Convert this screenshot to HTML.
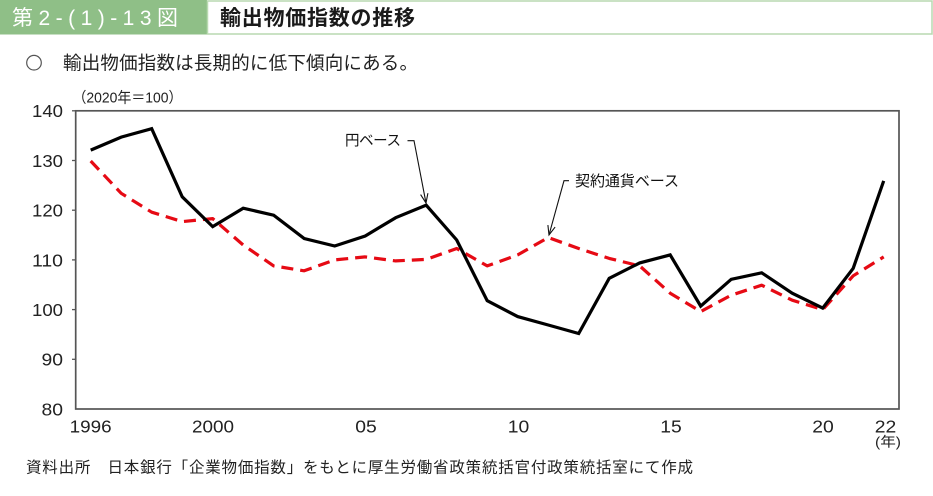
<!DOCTYPE html>
<html><head><meta charset="utf-8"><style>
html,body{margin:0;padding:0;background:#fff;}
svg{display:block;}
.jp{font-family:"Liberation Sans","Noto Sans CJK JP",sans-serif;}
.num{font-family:"Liberation Sans","Noto Sans CJK JP",sans-serif;}
</style></head><body>
<svg width="933" height="496" viewBox="0 0 933 496" xmlns="http://www.w3.org/2000/svg">
<!-- header -->
<rect x="0" y="0" width="207" height="34.5" fill="#8fbf87"/>
<rect x="207.5" y="1" width="724.5" height="33" fill="#fff" stroke="#b8d9b0" stroke-width="1.5"/>
<text class="jp" x="12" y="25" font-size="21" fill="#fff" textLength="166" lengthAdjust="spacing">第2-(1)-13図</text>
<text class="jp" x="220" y="25" font-size="21" font-weight="bold" fill="#1a1a1a" textLength="195" lengthAdjust="spacing">輸出物価指数の推移</text>
<!-- subtitle -->
<circle cx="34" cy="62.7" r="7.3" fill="none" stroke="#555" stroke-width="1.2"/>
<text class="jp" x="63" y="69.5" font-size="18.5" fill="#222" textLength="355" lengthAdjust="spacing">輸出物価指数は長期的に低下傾向にある。</text>
<text class="jp" x="72.5" y="102.5" font-size="15" fill="#222" textLength="110" lengthAdjust="spacingAndGlyphs">（2020年＝100）</text>
<!-- y labels -->
<g class="num" font-size="17.5" fill="#222" text-anchor="end">
<text x="63" y="117.2" textLength="31" lengthAdjust="spacingAndGlyphs">140</text>
<text x="63" y="166.9" textLength="31" lengthAdjust="spacingAndGlyphs">130</text>
<text x="63" y="216.6" textLength="31" lengthAdjust="spacingAndGlyphs">120</text>
<text x="63" y="266.3" textLength="31" lengthAdjust="spacingAndGlyphs">110</text>
<text x="63" y="316" textLength="31" lengthAdjust="spacingAndGlyphs">100</text>
<text x="63" y="365.7" textLength="21.5" lengthAdjust="spacingAndGlyphs">90</text>
<text x="63" y="415.4" textLength="21.5" lengthAdjust="spacingAndGlyphs">80</text>
</g>
<!-- ticks -->
<g stroke="#555" stroke-width="1.3">
<line x1="72" y1="110.8" x2="76" y2="110.8"/>
<line x1="72" y1="160.5" x2="76" y2="160.5"/>
<line x1="72" y1="210.2" x2="76" y2="210.2"/>
<line x1="72" y1="259.9" x2="76" y2="259.9"/>
<line x1="72" y1="309.6" x2="76" y2="309.6"/>
<line x1="72" y1="359.3" x2="76" y2="359.3"/>
</g>
<!-- plot frame -->
<rect x="75.7" y="110.8" width="823.3" height="298.2" fill="none" stroke="#555" stroke-width="1.7"/>
<!-- x labels -->
<g class="num" font-size="17.5" fill="#222" text-anchor="middle">
<text x="90.7" y="432.5" textLength="42" lengthAdjust="spacingAndGlyphs">1996</text>
<text x="213" y="432.5" textLength="42" lengthAdjust="spacingAndGlyphs">2000</text>
<text x="366" y="432.5" textLength="21.5" lengthAdjust="spacingAndGlyphs">05</text>
<text x="518.5" y="432.5" textLength="21.5" lengthAdjust="spacingAndGlyphs">10</text>
<text x="671" y="432.5" textLength="21.5" lengthAdjust="spacingAndGlyphs">15</text>
<text x="823" y="432.5" textLength="21.5" lengthAdjust="spacingAndGlyphs">20</text>
<text x="885.5" y="432.5" textLength="21.5" lengthAdjust="spacingAndGlyphs">22</text>
</g>
<text class="jp" x="875" y="446.5" font-size="13.5" fill="#222" textLength="26" lengthAdjust="spacingAndGlyphs">(年)</text>
<!-- red dashed: contract currency basis -->
<polyline fill="none" stroke="#e60a14" stroke-width="3.2" stroke-dasharray="12 7" stroke-linejoin="round"
points="90.7,161 121.2,193.3 151.7,212.2 182.2,221.6 212.7,218.6 243.2,245 273.7,265.9 304.2,270.8 334.7,259.9 365.2,256.9 395.7,260.9 426.2,259.4 456.7,248.5 487.2,265.9 517.7,254.9 548.2,237.5 578.7,248.5 609.2,258.4 639.7,265.9 670.2,293.2 700.7,311.6 731.2,295.2 761.7,285.2 792.2,300.2 822.7,309.6 853.2,275.8 883.7,256.9"/>
<!-- black: yen basis -->
<polyline fill="none" stroke="#000" stroke-width="3.2" stroke-linejoin="miter"
points="90.7,150.1 121.2,137.1 151.7,128.7 182.2,196.8 212.7,226.6 243.2,208.2 273.7,215.2 304.2,238.5 334.7,246 365.2,236 395.7,217.7 426.2,205.2 456.7,240 487.2,300.7 517.7,316.6 548.2,325 578.7,333.5 609.2,278.3 639.7,262.9 670.2,254.9 700.7,306.1 731.2,279.3 761.7,272.8 792.2,293.2 822.7,308.1 853.2,268.3 883.7,180.9"/>
<!-- annotations -->
<text class="jp" x="345" y="145.5" font-size="14.5" fill="#111" textLength="56" lengthAdjust="spacing">円ベース</text>
<g stroke="#111" stroke-width="1.1" fill="none">
<polyline points="407.5,140.7 414,140.7 426,203"/>
<polyline points="420.6,194.6 426,203 427.9,193.2"/>
</g>
<text class="jp" x="575" y="186" font-size="15" fill="#111" textLength="104" lengthAdjust="spacing">契約通貨ベース</text>
<g stroke="#111" stroke-width="1.1" fill="none">
<polyline points="569,180.7 564,180.7 549,235"/>
<polyline points="547.9,225.1 549,235 555.1,227.1"/>
</g>
<!-- source -->
<text class="jp" x="26" y="472.5" font-size="15.5" fill="#222" textLength="667" lengthAdjust="spacing">資料出所　日本銀行「企業物価指数」をもとに厚生労働省政策統括官付政策統括室にて作成</text>
</svg>
</body></html>
